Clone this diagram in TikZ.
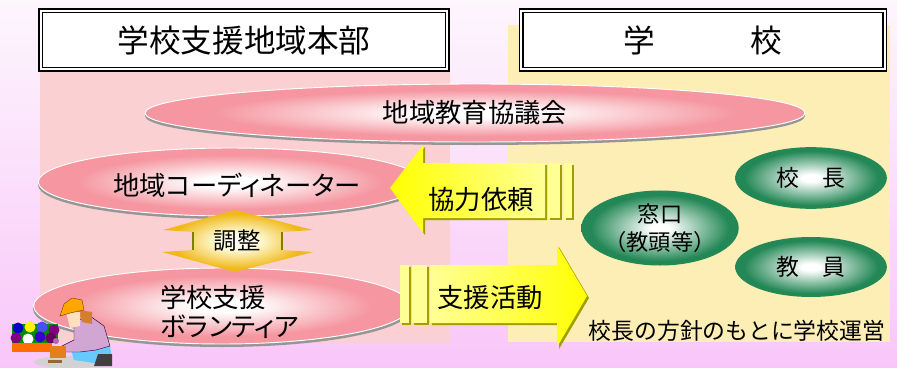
\documentclass[tikz,border=0pt]{standalone}
\usepackage{fontspec}
\setmainfont{Noto Sans CJK JP}
\newfontfamily\propfont{Noto Sans CJK JP}[RawFeature=+palt]
\usepackage{xcolor}
\usetikzlibrary{positioning, shapes.geometric, calc}

\definecolor{bgtop}{RGB}{253,246,253}
\definecolor{bgbottom}{RGB}{249,198,249}
\definecolor{honbufill}{RGB}{250,208,210}
\definecolor{gakkofill}{RGB}{253,238,182}
\definecolor{salmon}{RGB}{245,150,160}
\definecolor{leafgreen}{RGB}{36,136,86}
\definecolor{goldtone}{RGB}{240,185,25}
\definecolor{paleyellow}{RGB}{255,255,150}
\definecolor{arrowedge}{RGB}{160,160,0}
\definecolor{ovalshadow}{RGB}{150,150,150}

% shadings for the ovals
\pgfdeclareradialshading{pinkglow}{\pgfpoint{0bp}{0bp}}{color(0bp)=(white); color(4bp)=(white); color(20bp)=(salmon); color(50bp)=(salmon)}
\pgfdeclareradialshading{greenglow}{\pgfpoint{0bp}{0bp}}{color(0bp)=(white); color(3bp)=(white); color(22bp)=(leafgreen); color(50bp)=(leafgreen)}
\pgfdeclareradialshading{goldglow}{\pgfpoint{0bp}{0bp}}{color(0bp)=(white); color(6bp)=(yellow!10); color(22bp)=(goldtone); color(50bp)=(goldtone)}

\begin{document}
\begin{tikzpicture}[x=0.03cm, y=-0.03cm,
        header/.style={draw, fill=white, line width=1.2pt, double=white, double distance=1.6pt, inner sep=0pt, font=\fontsize{27}{30}\selectfont},
        pinkoval/.style={ellipse, inner sep=0pt, draw=white, line width=0.8pt, shading=pinkglow, font=\fontsize{22.5}{27}\selectfont},
        greenoval/.style={ellipse, inner sep=0pt, shading=greenglow, font=\fontsize{19.5}{24}\selectfont},
        arrowtext/.style={inner sep=0pt, font=\fontsize{22.5}{27}\selectfont}
    ]
    \useasboundingbox (0,0) rectangle (897,368);

    % --- Background and panels ---
    \shade[top color=bgtop, bottom color=bgbottom] (0,0) rectangle (897,368);
    \fill[honbufill] (40,70) rectangle (450,343);
    \fill[gakkofill] (508,25) rectangle (890,342);

    % --- Headers ---
    \node[header, minimum width=12.2cm, minimum height=1.75cm] (honbu) at (244,40) {学校支援地域本部};
    \node[header, minimum width=10.9cm, minimum height=1.75cm] (gakko) at (703,40) {学　　　校};

    % --- Council ---
    \fill[ovalshadow] (475,116) ellipse [x radius=330, y radius=29];
    \node[pinkoval, minimum width=19.8cm, minimum height=1.74cm] (kyogikai) at (475,113) {地域教育協議会};

    % --- Coordinator ---
    \fill[ovalshadow] (230,185) ellipse [x radius=192, y radius=34];
    \node[pinkoval, minimum width=11.5cm, minimum height=2.04cm] (coord) at (230,182) {};
    \node[arrowtext, font=\fontsize{22.5}{27}\propfont] (coordtext) at (237,185) {地域コーディネーター};

    % --- Volunteers ---
    \fill[ovalshadow] (222,309) ellipse [x radius=189, y radius=38];
    \node[pinkoval, minimum width=11.3cm, minimum height=2.28cm] (volunteer) at (222,306) {};
    \node[arrowtext, anchor=west, align=left, font=\fontsize{22.5}{25}\propfont] (voltext) at (160,312) {学校支援\\ボランティア};

    % --- Adjustment (double arrow) ---
    \shade[shading=goldglow] (235,210) -- (313,230) -- (282,232) -- (282,250) -- (313,252)
        -- (235,272) -- (162,252) -- (193,250) -- (193,232) -- (163,230) -- cycle;
    \draw[arrowedge!80!black, line width=1pt] (193,232) -- (193,250) (282,232) -- (282,250);
    \node[arrowtext, font=\fontsize{20}{24}\selectfont] (chosei) at (237,241) {調整};

    % --- Request arrow (to the left) ---
    \fill[arrowedge] (392,190) -- (425,147) -- (425,165) -- (547,165) -- (547,220) -- (425,220) -- (425,235) -- cycle;
    \fill[arrowedge] (550,165) rectangle (562,220);
    \fill[arrowedge] (566,165) rectangle (574,220);
    \shade[left color=yellow, right color=paleyellow] (390,188) -- (423,145) -- (423,163) -- (545,163)
        -- (545,218) -- (423,218) -- (423,233) -- cycle;
    \fill[paleyellow] (548,163) rectangle (560,218);
    \fill[paleyellow] (564,163) rectangle (572,218);
    \node[arrowtext] (irai) at (481,200) {協力依頼};

    % --- Support arrow (to the right) ---
    \fill[arrowedge] (402,267) rectangle (411,325);
    \fill[arrowedge] (414,267) rectangle (429,325);
    \fill[arrowedge] (432,267) -- (559,267) -- (559,247) -- (589,298) -- (559,349) -- (559,325) -- (432,325) -- cycle;
    \fill[paleyellow] (400,265) rectangle (409,323);
    \fill[paleyellow] (412,265) rectangle (427,323);
    \shade[left color=paleyellow, right color=yellow] (430,265) -- (557,265) -- (557,245) -- (587,296)
        -- (557,347) -- (557,323) -- (430,323) -- cycle;
    \node[arrowtext] (katsudo) at (490,298) {支援活動};

    % --- School side ---
    \node[greenoval, minimum width=4.55cm, minimum height=1.85cm] (kocho) at (811,178) {校　長};
    \node[greenoval, minimum width=4.5cm, minimum height=2.25cm, align=center, font=\fontsize{19}{24}\selectfont] (madoguchi) at (660,228) {窓口\\（教頭等）};
    \node[greenoval, minimum width=4.55cm, minimum height=1.8cm] (kyoin) at (811,267) {教　員};
    \node[inner sep=0pt, font=\fontsize{19.5}{24}\selectfont] (unei) at (737,331) {校長の方針のもとに学校運営};

    % --- Gardener with flower box ---
    \fill[green!55!black] (12,324) rectangle (58,343);
    \foreach \fx/\fy/\fc in {18/328/blue!80!black, 30/327/yellow, 42/327/blue!70, 54/330/violet,
                             16/338/violet, 28/339/white, 40/337/blue!60!violet, 51/338/violet!80!black}
        \fill[\fc] (\fx,\fy) circle (5.5);
    \fill[orange!85!red] (12,343) rectangle (52,352);
    \fill[gray!35] (72,362) ellipse [x radius=38, y radius=6];
    % jeans and boot
    \fill[blue!35!cyan!60!white] (70,346) -- (100,336) -- (110,346) -- (112,358) -- (100,364) -- (74,360) -- cycle;
    \fill[black!75] (98,354) -- (112,354) -- (112,366) -- (94,366) -- cycle;
    % shirt
    \fill[violet!35] (74,322) -- (90,316) -- (104,326) -- (110,346) -- (96,350) -- (80,352) -- (64,352) -- (62,346) -- (74,340) -- cycle;
    \draw[violet!50!black, line width=0.4pt] (74,322) -- (90,316) -- (104,326) -- (110,346) -- (96,350) -- (80,352) -- (64,352) -- (62,346) -- (74,340) -- cycle;
    % hair, face, cap
    \fill[brown!70!orange] (78,310) -- (92,312) -- (92,324) -- (82,322) -- cycle;
    \fill[orange!25] (66,312) -- (80,312) -- (80,326) -- (70,328) -- cycle;
    \fill[orange!70!yellow] (60,316) -- (64,304) -- (72,298) -- (82,300) -- (84,310) -- (70,313) -- cycle;
    \draw[orange!50!black, line width=0.4pt] (60,316) -- (64,304) -- (72,298) -- (82,300) -- (84,310) -- (70,313) -- cycle;
    % flower pot in hands
    \fill[orange!60!brown] (50,346) rectangle (66,358);
    \fill[brown!80!black] (48,360) rectangle (62,363);
    \fill[violet!60] (56,341) circle (3);

\end{tikzpicture}
\end{document}
